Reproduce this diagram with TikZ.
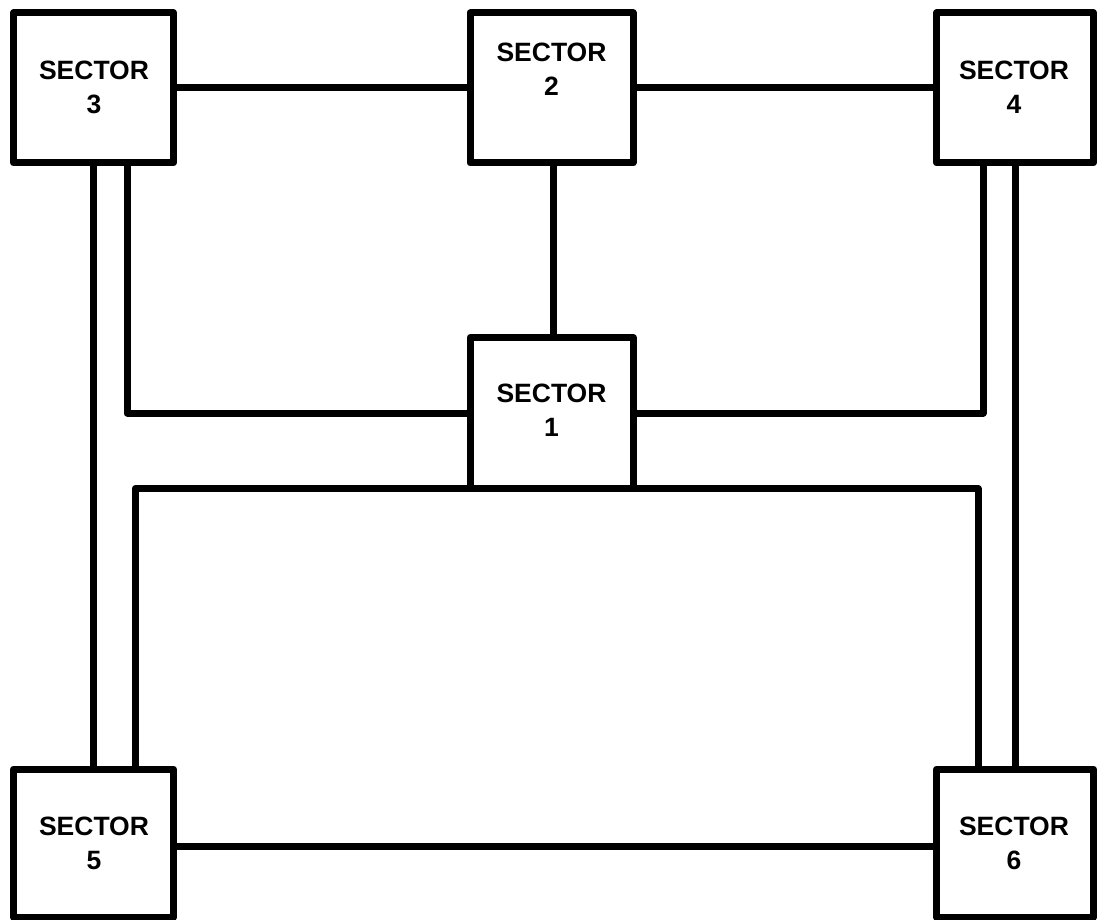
\documentclass[tikz,border=0pt]{standalone}
\usepackage{fontspec}
\setmainfont{Liberation Sans}
\begin{document}
\begin{tikzpicture}[x=1pt,y=-1pt,
  sectorbox/.style={draw=black,line width=7pt,line join=round,inner sep=0pt,outer sep=0pt,minimum width=160pt,minimum height=150pt},
  wire/.style={draw=black,line width=7pt,line join=round},
  sectorlabel/.style={align=center,font=\fontsize{26.5}{34}\selectfont\bfseries,inner sep=0pt}]
\useasboundingbox (0,0) rectangle (1097,920);
\node[sectorbox] (s3) at (93.5,88) {};
\node[sectorbox,minimum width=163pt] (s2) at (551.5,88) {};
\node[sectorbox,minimum width=157pt] (s4) at (1015,88) {};
\node[sectorbox,minimum width=163pt,minimum height=151pt] (s1) at (551.5,413) {};
\node[sectorbox,minimum height=148pt] (s5) at (93.5,843) {};
\node[sectorbox,minimum width=157pt,minimum height=148pt] (s6) at (1015,843) {};
\node[sectorlabel] (t3) at (94,87.5) {SECTOR\\3};
\node[sectorlabel] (t2) at (551.5,69.5) {SECTOR\\2};
\node[sectorlabel] (t4) at (1014,87.5) {SECTOR\\4};
\node[sectorlabel] (t1) at (551.5,410) {SECTOR\\1};
\node[sectorlabel] (t5) at (94,843) {SECTOR\\5};
\node[sectorlabel] (t6) at (1014,843) {SECTOR\\6};
\draw[wire] (s3.east) -- (s2.west);
\draw[wire] (s2.east) -- (s4.west);
\draw[wire] ([xshift=1.5pt]s2.south) -- ([xshift=1.5pt]s1.north);
\draw[wire] (s3.south) -- (s5.north);
\draw[wire] ([xshift=33.5pt]s3.south) |- (s1.west);
\draw[wire] ([xshift=-32pt]s4.south) |- (s1.east);
\draw[wire] (s4.south) -- (s6.north);
\draw[wire] ([xshift=41.5pt]s5.north) |- (s1.south);
\draw[wire] (s1.south) -| ([xshift=-37pt]s6.north);
\draw[wire] ([yshift=-3pt]s5.east) -- ([yshift=-3pt]s6.west);
\end{tikzpicture}
\end{document}
